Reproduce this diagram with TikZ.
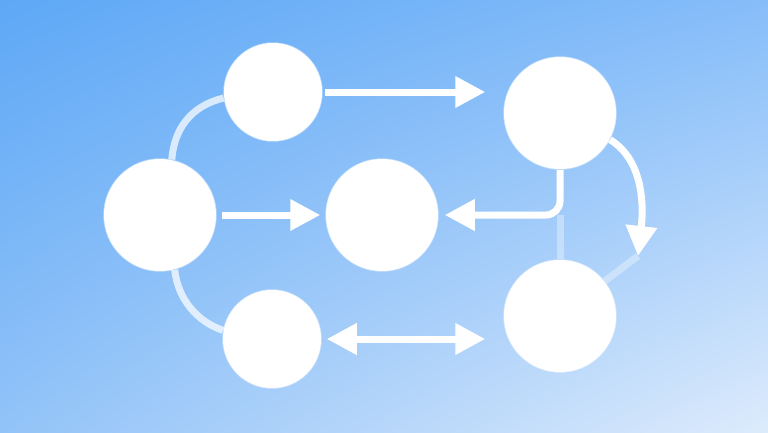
\documentclass[tikz,border=0pt]{standalone}
\usetikzlibrary{arrows.meta,shadings,calc}
\definecolor{bgTL}{HTML}{5EA8F6}
\definecolor{bgTR}{HTML}{86BDF9}
\definecolor{bgBL}{HTML}{92C3F8}
\definecolor{bgBR}{HTML}{DDEBFC}
\begin{document}
\begin{tikzpicture}[x=1pt,y=-1pt,
  bubble/.style={circle,fill=white,draw=white,draw opacity=0.45,line width=1.5pt,inner sep=0pt},
  bigbubble/.style={bubble,minimum size=112pt},
  smallbubble/.style={bubble,minimum size=98pt},
  link/.style={draw=white,line width=7pt},
  tipend/.style={-{Triangle[length=30pt,width=30pt]}},
  bothends/.style={{Triangle[length=30pt,width=30pt]}-{Triangle[length=30pt,width=30pt]}},
  faint/.style={link,draw opacity=0.35},
  soft/.style={link,draw opacity=0.72}]
\shade[upper left=bgTL,upper right=bgTR,lower left=bgBL,lower right=bgBR] (0,0) rectangle (768,432);
\useasboundingbox (0,0) rectangle (768,432);

\node[smallbubble] (A) at (273,92) {};
\node[bigbubble] (B) at (160,215) {};
\node[bigbubble] (C) at (382,215) {};
\node[smallbubble] (D) at (272,339) {};
\node[bigbubble] (E) at (560,113) {};
\node[bigbubble] (F) at (560,316) {};

% straight arrows
\draw[link,tipend,shorten <=2pt,shorten >=18pt] (A.east) -- (A.east -| E.west);
\draw[link,tipend,shorten <=5pt,shorten >=5pt] (B.east) -- (C.west);
\draw[link,bothends,shorten <=5pt,shorten >=18pt] (D.east) -- (D.east -| F.west);

% E to C with rounded corner
\draw[link,tipend,rounded corners=14pt,shorten >=6pt] (E.south) |- (C.east);
\coordinate (corner) at (E.south |- C.east);
\draw[faint] (corner) -- (F.north);

% E to F arc
\coordinate (arctip) at (638,256);
\draw[link,tipend] (E.-28) .. controls (646,162) and (643,212) .. (arctip);
\draw[faint] (arctip) -- (F.38);

% soft arcs on the left
\draw[soft] (B.78) .. controls (174,130) and (190,106) .. (A.187);
\draw[soft] (B.-75) .. controls (178,300) and (198,322) .. (D.170);
\end{tikzpicture}
\end{document}
